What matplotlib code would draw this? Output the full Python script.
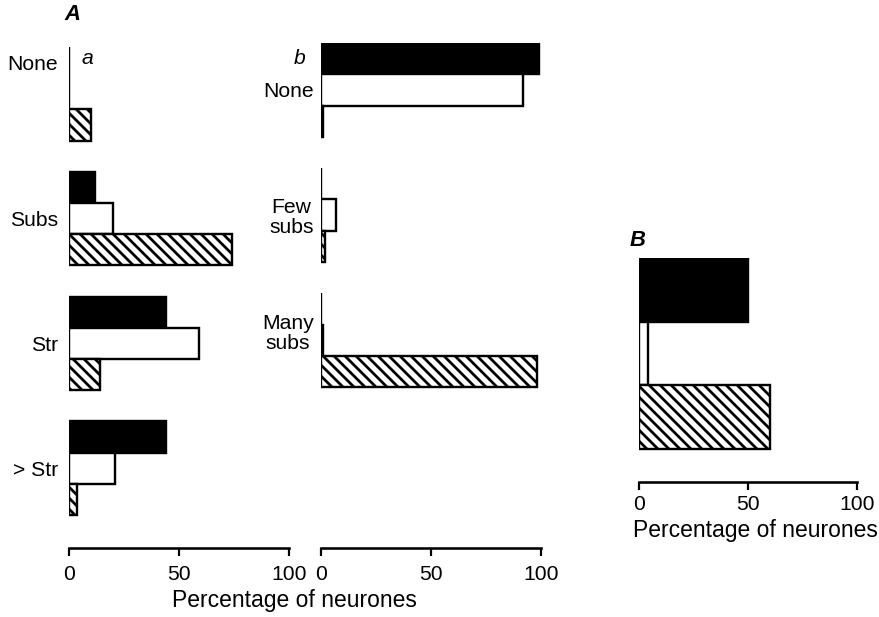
import numpy as np
import matplotlib
matplotlib.use("Agg")
import matplotlib.pyplot as plt

# ---------------- data ----------------
cats_Aa = ["None", "Subs", "Str", "> Str"]
filled_Aa = [0, 12, 44, 44]
open_Aa = [0, 20, 59, 21]
hatched_Aa = [10, 74, 14, 3.5]

cats_Ab = ["None", "Few\nsubs", "Many\nsubs"]
filled_Ab = [99, 0, 0]
open_Ab = [92, 7, 1]
hatched_Ab = [1, 2, 98]

filled_B = [50]
open_B = [4]
hatched_B = [60]

xticks = [0, 50, 100]
xlabel = "Percentage of neurones"

# ---------------- style ----------------
W, H, DPI = 879, 617, 132
plt.rcParams['font.family'] = ['Liberation Sans', 'DejaVu Sans']
plt.rcParams['hatch.linewidth'] = 1.5
FS = 11.5
LW = 1.3
HATCH = '\\' * 4

fig = plt.figure(figsize=(W / DPI, H / DPI), dpi=DPI)


def px_axes(left, top, right, bottom):
    return fig.add_axes([left / W, 1 - bottom / H, (right - left) / W, (bottom - top) / H])


def panel(ax, filled, opn, hatched, bar_px, top_px, bottom_px, tick_pad, pitch=4):
    n = len(filled)
    pos = np.arange(n) * pitch
    kw = dict(height=1.0, edgecolor='black', linewidth=LW, align='center')
    ax.barh(pos, filled, color='black', **kw)
    ax.barh(pos + 1, opn, color='white', **kw)
    ax.barh(pos + 2, hatched, color='white', hatch=HATCH, **kw)
    ax.set_xlim(0, 100)
    span = (bottom_px - top_px) / bar_px
    ax.set_ylim(-0.5 + span, -0.5)
    for s in ['left', 'top', 'right']:
        ax.spines[s].set_visible(False)
    ax.spines['bottom'].set_linewidth(1.4)
    ax.spines['bottom'].set_bounds(0, 100)
    ax.set_xticks(xticks)
    ax.set_xticklabels([str(t) for t in xticks], fontsize=FS)
    ax.tick_params(axis='x', direction='out', length=4.2, width=1.2, pad=tick_pad)
    ax.tick_params(axis='y', length=0)
    ax.patch.set_alpha(0)
    return pos


def fxy(x, y):
    return x / W, 1 - y / H


# Panel A a
axa = px_axes(69, 47, 289, 548)
pos = panel(axa, filled_Aa, open_Aa, hatched_Aa, 31.2, 47, 548, 5)
axa.set_yticks([pos[0]] + list(pos[1:] + 1))
axa.set_yticklabels(cats_Aa, fontsize=FS)
axa.tick_params(axis='y', pad=6)

# Panel A b
axb = px_axes(321, 43, 541, 548)
pos = panel(axb, filled_Ab, open_Ab, hatched_Ab, 31.3, 43, 548, 5)
axb.set_yticks([pos[0] + 1, pos[1] + 1, pos[2] + 0.7])
axb.set_yticklabels(cats_Ab, fontsize=FS)
axb.tick_params(axis='y', pad=4)
for lab in axb.get_yticklabels():
    lab.set_multialignment('center')
    lab.set_linespacing(1.05)

# Panel B
axB = px_axes(639, 258, 857, 482)
panel(axB, filled_B, open_B, hatched_B, 63.7, 258, 482, 3)
axB.set_yticks([])

# labels
fig.text(*fxy(294, 601), xlabel, fontsize=12.5, ha='center', va='center')
fig.text(*fxy(755, 530), xlabel, fontsize=12.5, ha='center', va='center')
fig.text(*fxy(72, 15), "A", fontsize=12, style='italic', weight='bold', ha='center', va='center')
fig.text(*fxy(638, 240), "B", fontsize=12, style='italic', weight='bold', ha='center', va='center')
fig.text(*fxy(87, 58), "a", fontsize=FS, style='italic', ha='center', va='center')
fig.text(*fxy(300, 58), "b", fontsize=FS, style='italic', ha='center', va='center')

fig.savefig("out.png", dpi=DPI)
